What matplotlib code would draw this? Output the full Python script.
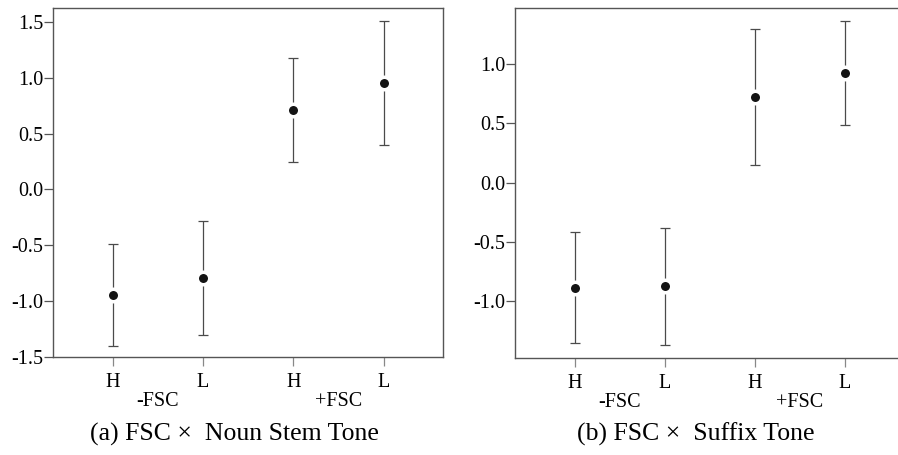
import matplotlib
matplotlib.use("Agg")
import matplotlib.pyplot as plt

plt.rcParams['font.family'] = ['Liberation Serif', 'DejaVu Serif']
plt.rcParams['axes.unicode_minus'] = False

# Data
tone_labels = ["H", "L", "H", "L"]
group_labels = ["-FSC", "+FSC"]

a_mean = [-0.943, -0.79, 0.715, 0.955]
a_low = [-1.398, -1.30, 0.25, 0.40]
a_high = [-0.49, -0.283, 1.18, 1.506]

b_mean = [-0.888, -0.871, 0.72, 0.929]
b_low = [-1.357, -1.374, 0.148, 0.489]
b_high = [-0.416, -0.387, 1.298, 1.363]

a_yticks = [-1.5, -1.0, -0.5, 0.0, 0.5, 1.0, 1.5]
a_yticklabels = ["-1.5", "-1.0", "-0.5", "0.0", "0.5", "1.0", "1.5"]
b_yticks = [-1.0, -0.5, 0.0, 0.5, 1.0]
b_yticklabels = ["-1.0", "-0.5", "0.0", "0.5", "1.0"]

captions = ["(a) FSC \u00d7  Noun Stem Tone", "(b) FSC \u00d7  Suffix Tone"]

W, H = 898, 455
fig = plt.figure(figsize=(W / 100, H / 100), dpi=100)

def px_rect(l, t, r, b):
    return [l / W, 1 - b / H, (r - l) / W, (b - t) / H]

ax_a = fig.add_axes(px_rect(53, 8, 443, 357))
ax_b = fig.add_axes(px_rect(514.7, 8.3, 905, 357.7))

spine_col = '#555555'
line_col = '#4a4a4a'
tick_fs = 14.5

def draw(ax, mean, low, high, yticks, yticklabels, ylim, xlim):
    x = list(range(len(mean)))
    yerr = [[m - l for m, l in zip(mean, low)], [h - m for m, h in zip(mean, high)]]
    ax.errorbar(x, mean, yerr=yerr, fmt='none', ecolor=line_col, elinewidth=0.9,
                capsize=3.6, capthick=0.9, zorder=2)
    ax.plot(x, mean, 'o', color='#141414', markersize=9.0, markeredgecolor='white',
            markeredgewidth=2.5, zorder=3)
    ax.set_xlim(*xlim)
    ax.set_ylim(*ylim)
    ax.set_xticks(x)
    ax.set_xticklabels(tone_labels, fontsize=tick_fs)
    ax.set_yticks(yticks)
    ax.set_yticklabels(yticklabels, fontsize=tick_fs)
    for s in ax.spines.values():
        s.set_color(spine_col)
        s.set_linewidth(1.0)
    ax.tick_params(axis='y', length=6.5, width=0.9, color=spine_col, pad=0.5)
    ax.tick_params(axis='x', length=6.5, width=0.9, color='#888888', pad=5)
    # group labels
    for gi, g in enumerate(group_labels):
        xc = (x[2 * gi] + x[2 * gi + 1]) / 2
        ax.annotate(g, xy=(xc, 0), xycoords=('data', 'axes fraction'),
                    xytext=(0, -45), textcoords='offset pixels',
                    ha='center', va='center', fontsize=tick_fs)

draw(ax_a, a_mean, a_low, a_high, a_yticks, a_yticklabels, (-1.5, 1.625), (-0.661, 3.657))
draw(ax_b, b_mean, b_low, b_high, b_yticks, b_yticklabels, (-1.479, 1.473), (-0.665, 3.665))

fig.text(234 / W, 1 - 434 / H, captions[0], ha='center', va='center', fontsize=18.5)
fig.text(695.5 / W, 1 - 434 / H, captions[1], ha='center', va='center', fontsize=18.5)

fig.savefig("out.png", dpi=100)
